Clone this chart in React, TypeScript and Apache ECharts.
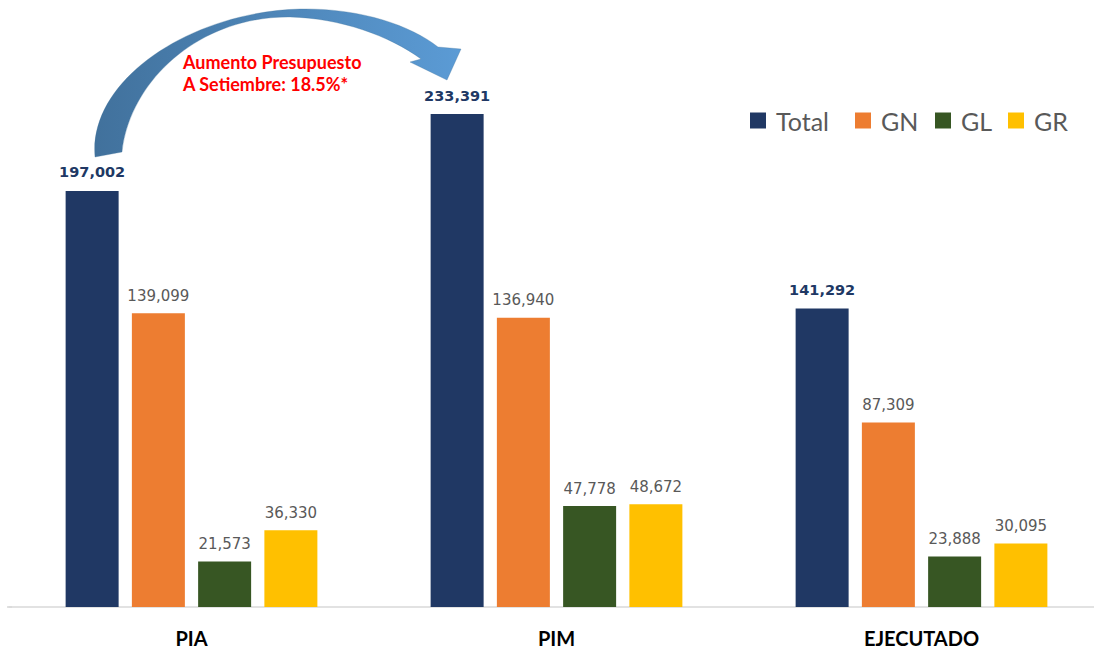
import React, { useEffect, useRef } from "react";
import * as echarts from "echarts";

const categories = ["PIA", "PIM", "EJECUTADO"];
const seriesNames = ["Total", "GN", "GL", "GR"];
const totalValues = [197002, 233391, 141292];
const gnValues = [139099, 136940, 87309];
const glValues = [21573, 47778, 23888];
const grValues = [36330, 48672, 30095];
const colors = ["#203864", "#ED7D31", "#375623", "#FFC000"];
const legendLefts = [750, 855, 935, 1008];
const annotation = "Aumento Presupuesto\nA Setiembre: 18.5%*";

const arrowPath =
  "M 95 157 C 88 80 190 12 300 9 C 360 8 410 25 438 47 L 461 49 L 447 80 L 410 62 L 421 59 C 390 36 340 18 290 17 C 200 16 130 80 122 152 Z";

let registered = false;

export default function App() {
  const ref = useRef<HTMLDivElement>(null);
  useEffect(() => {
    if (!registered) {
      echarts.graphic.registerShape("arrowShape", echarts.graphic.extendPath(arrowPath, {}));
      registered = true;
    }
    const chart = echarts.init(ref.current!, null, { renderer: "svg" });
    const valueSets = [totalValues, gnValues, glValues, grValues];
    const series = seriesNames.map((name, i) => ({
      name,
      type: "bar",
      data: valueSets[i],
      barWidth: 53,
      barGap: "25%",
      itemStyle: { color: colors[i] },
      label: {
        show: true,
        position: "top",
        distance: i === 0 ? 11 : 10,
        formatter: (p: any) => Number(p.value).toLocaleString("en-US"),
        fontFamily: "DejaVu Sans",
        fontSize: i === 0 ? 14.5 : 15,
        fontWeight: i === 0 ? "bold" : "normal",
        color: i === 0 ? "#203864" : "#595959",
      },
    }));
    const legends = seriesNames.map((name, i) => ({
      data: [name],
      left: legendLefts[i],
      top: 108,
      itemWidth: 16,
      itemHeight: 16,
      icon: "rect",
      padding: 0,
      textStyle: {
        fontFamily: "Lato",
        fontSize: 25,
        color: "#595959",
        padding: [0, 0, 0, 5],
      },
    }));
    chart.setOption({
      animation: false,
      backgroundColor: "#ffffff",
      grid: { left: 9, width: 1095, top: 79, bottom: 43, containLabel: false },
      legend: legends,
      xAxis: {
        type: "category",
        data: categories,
        axisTick: { show: false },
        axisLine: { lineStyle: { color: "#D9D9D9", width: 1.5 } },
        axisLabel: {
          margin: 21,
          fontFamily: "Lato",
          fontWeight: "bold",
          fontSize: 20,
          color: "#000000",
        },
      },
      yAxis: {
        type: "value",
        min: 0,
        max: 250000,
        show: false,
        splitLine: { show: false },
      },
      series,
      graphic: [
        {
          type: "line",
          shape: { x1: 7, y1: 607, x2: 12, y2: 607 },
          style: { stroke: "#D9D9D9", lineWidth: 1.5 },
        },
        {
          type: "arrowShape",
          x: 0,
          y: 0,
          z: 10,
          style: {
            fill: new echarts.graphic.LinearGradient(0, 0, 1, 0, [
              { offset: 0, color: "#41719C" },
              { offset: 1, color: "#5B9BD5" },
            ]),
            stroke: "rgba(65,113,156,0.6)",
            lineWidth: 0.5,
          },
        },
        {
          type: "text",
          left: 183,
          top: 51,
          z: 11,
          style: {
            text: annotation,
            fill: "#FF0000",
            fontFamily: "Lato",
            fontWeight: "bold",
            fontSize: 18,
            lineHeight: 22,
          },
        },
      ],
    });
    return () => chart.dispose();
  }, []);
  return (
    <div style={{ position: "absolute", left: 0, top: 0, width: 1094, height: 650, overflow: "hidden", background: "#fff" }}>
      <div ref={ref} style={{ width: 1110, height: 650 }} />
    </div>
  );
}
